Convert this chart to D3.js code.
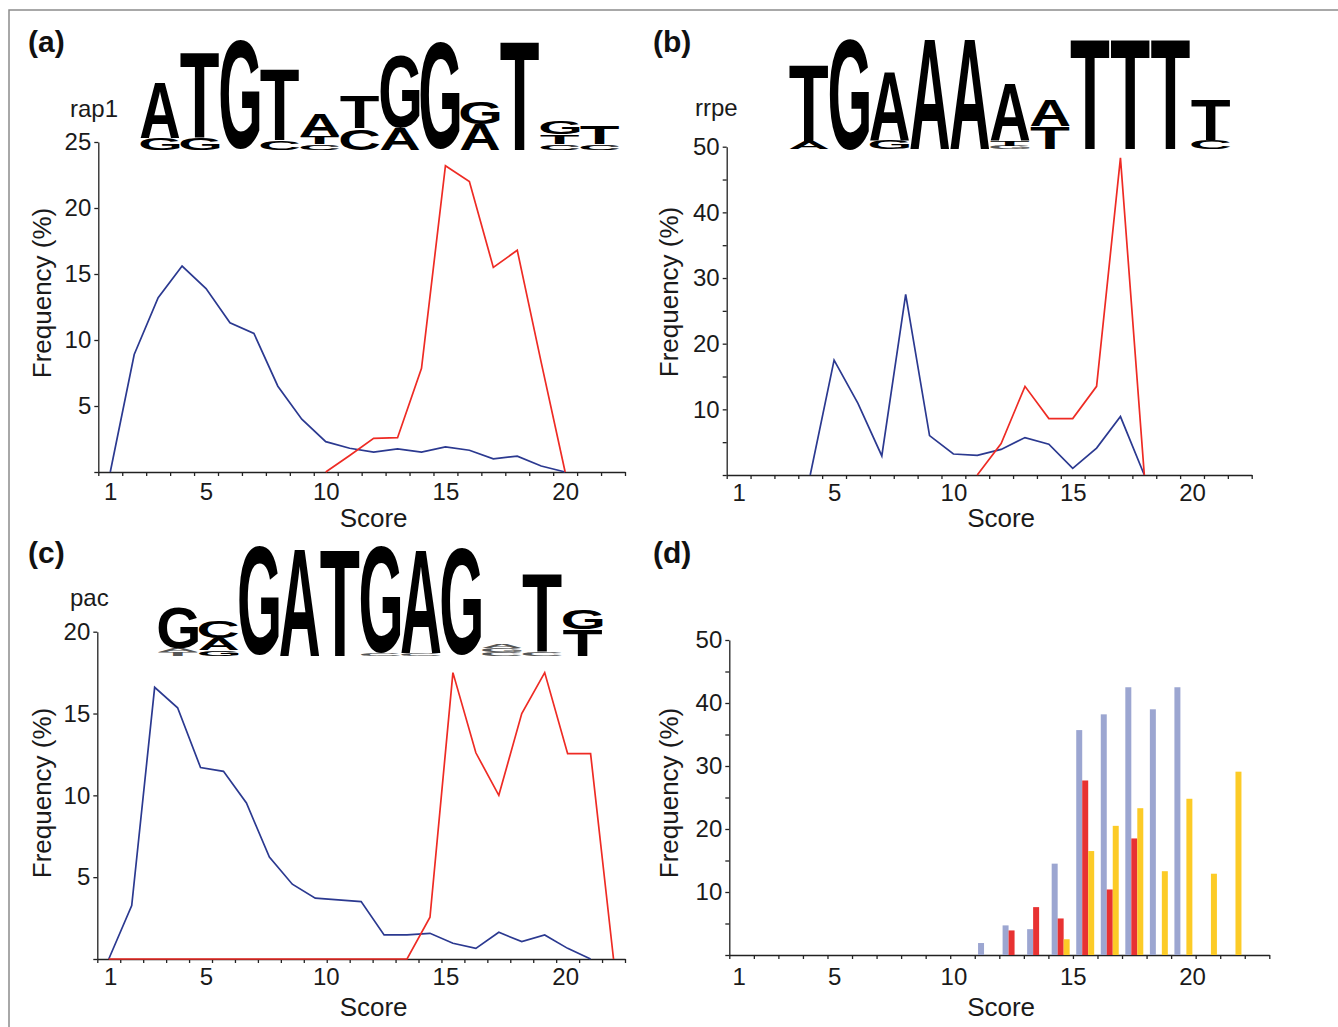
<!DOCTYPE html>
<html>
<head>
<meta charset="utf-8">
<script src="https://cdn.jsdelivr.net/npm/d3@7"></script>
<style>
  body { margin: 0; background: #fff; }
  svg { display: block; font-family: "Liberation Sans", Arial, sans-serif; }
</style>
</head>
<body>
<div id="figure"></div>
<script>

// x tick labels (score)
var xTickLabels = [1, 5, 10, 15, 20];

// (a) rap1, scores 1..22 (null = not drawn)
var rap1Blue = [0, 8.9, 13.2, 15.6, 13.9, 11.3, 10.5, 6.5, 4.0, 2.3, 1.8, 1.5, 1.75, 1.5, 1.9, 1.65, 1.0, 1.2, 0.45, 0, null, null];
var rap1Red = [null, null, null, null, null, null, null, null, null, 0, 1.25, 2.55, 2.6, 7.85, 23.2, 22.0, 15.5, 16.8, 8.3, 0, null, null];
var rap1YLabels = [5, 10, 15, 20, 25];

// (b) rrpe, scores 1..22
var rrpeBlue = [null, null, null, 0, 17.5, 10.9, 2.9, 27.5, 6.0, 3.2, 3.0, 3.9, 5.7, 4.7, 1.0, 4.1, 8.9, 0, null, null, null, null];
var rrpeRed = [null, null, null, null, null, null, null, null, null, null, 0, 4.8, 13.5, 8.6, 8.6, 13.5, 48.3, 0, null, null, null, null];
var rrpeYLabels = [10, 20, 30, 40, 50];

// (c) pac, scores 1..23
var pacBlue = [0, 3.26, 16.6, 15.35, 11.7, 11.47, 9.53, 6.23, 4.57, 3.72, 3.61, 3.51, 1.47, 1.47, 1.57, 0.96, 0.65, 1.63, 1.06, 1.47, 0.65, 0, null];
var pacRed = [0, 0, 0, 0, 0, 0, 0, 0, 0, 0, 0, 0, 0, 0, 2.55, 17.5, 12.6, 10.0, 15.0, 17.5, 12.55, 12.55, 0];
var pacYLabels = [5, 10, 15, 20];

// (d) bars, scores 1..22
var barGrey = [0, 0, 0, 0, 0, 0, 0, 0, 0, 0, 1.9, 4.7, 4.1, 14.5, 35.7, 38.2, 42.5, 39.0, 42.5, 0, 0, 0];
var barRed = [0, 0, 0, 0, 0, 0, 0, 0, 0, 0, 0, 3.9, 7.6, 5.8, 27.7, 10.4, 18.5, 0, 0, 0, 0, 0];
var barYellow = [0, 0, 0, 0, 0, 0, 0, 0, 0, 0, 0, 0, 0, 2.5, 16.5, 20.5, 23.3, 13.3, 24.8, 12.9, 29.1, 0];
var barYLabels = [10, 20, 30, 40, 50];

// sequence logos: each column is a stack bottom -> top, [letter, bits]
var rap1Logo = [
  [["G", 0.22], ["A", 1.02]],
  [["G", 0.22], ["T", 1.56]],
  [["G", 2.0]],
  [["C", 0.18], ["T", 1.31]],
  [["C", 0.11], ["T", 0.15], ["A", 0.40]],
  [["C", 0.40], ["T", 0.60]],
  [["A", 0.40], ["G", 1.33]],
  [["G", 1.95]],
  [["A", 0.47], ["G", 0.42]],
  [["T", 2.0]],
  [["C", 0.11], ["T", 0.18], ["G", 0.24]],
  [["C", 0.11], ["T", 0.33]]
];
var rrpeLogo = [
  [["A", 0.16], ["T", 1.40]],
  [["G", 2.03]],
  [["G", 0.18], ["A", 1.27]],
  [["A", 2.03]],
  [["A", 2.03]],
  [["G", 0.07], ["T", 0.11], ["A", 1.04]],
  [["T", 0.42], ["A", 0.49]],
  [["T", 2.03]],
  [["T", 2.03]],
  [["T", 2.03]],
  [["C", 0.18], ["T", 0.73]]
];
var pacLogo = [
  [["T", 0.07], ["A", 0.07], ["G", 0.76]],
  [["G", 0.11], ["A", 0.22], ["C", 0.31]],
  [["G", 2.0]],
  [["A", 1.96]],
  [["T", 1.95]],
  [["C", 0.05], ["G", 1.95]],
  [["C", 0.05], ["A", 1.91]],
  [["G", 1.96]],
  [["C", 0.07], ["G", 0.07], ["A", 0.09]],
  [["C", 0.09], ["T", 1.42]],
  [["T", 0.49], ["G", 0.36]]
];

var width = 1338, height = 1027;
var blue = "#2b3990", red = "#ee2b24";

var svg = d3.select("#figure")
  .append("svg")
    .attr("width", width)
    .attr("height", height);

// grey frame on top and left
svg.append("path")
  .attr("d", "M9," + height + "V10H" + width)
  .attr("fill", "none")
  .attr("stroke", "#8c8c8c")
  .attr("stroke-width", 1.5);

function styleAxis(g) {
  g.attr("font-family", "'Liberation Sans', Arial, sans-serif")
   .attr("font-size", 24);
  g.selectAll("path, line").attr("stroke", "#222").attr("stroke-width", 1.3);
  g.selectAll("text").attr("fill", "#1a1a1a");
}

// one chart panel with score axis and frequency axis
function drawPanel(p) {
  var x = d3.scaleLinear().domain([0.5, p.n + 0.5]).range(p.xRange);
  var xLab = d3.scaleLinear().domain([0.5, 22.5]).range(p.labelRange);
  var y = d3.scaleLinear().domain([0, p.yMax]).range([p.y0, p.yTop]);

  // ticks between score categories
  svg.append("g")
    .attr("transform", "translate(0," + p.y0 + ")")
    .call(d3.axisBottom(x).tickValues(d3.range(0.5, p.n + 1, 1)).tickFormat("").tickSize(4).tickSizeOuter(0))
    .call(styleAxis);

  svg.append("g")
    .attr("transform", "translate(0," + p.y0 + ")")
    .call(d3.axisBottom(xLab).tickValues(xTickLabels).tickSize(0).tickPadding(p.labelPad))
    .call(g => g.select(".domain").remove())
    .call(styleAxis);

  svg.append("g")
    .attr("transform", "translate(" + p.xRange[0] + ",0)")
    .call(d3.axisLeft(y).tickValues(d3.range(0, p.yMax + 1, 5)).tickSize(4).tickSizeOuter(0).tickPadding(3)
      .tickFormat(d => p.yLabels.indexOf(d) >= 0 ? d : ""))
    .call(styleAxis);

  svg.append("text")
    .attr("x", xLab(12))
    .attr("y", p.scoreY)
    .attr("text-anchor", "middle")
    .attr("font-size", 26)
    .attr("fill", "#1a1a1a")
    .text("Score");

  svg.append("text")
    .attr("transform", "translate(" + p.titleX + "," + p.titleY + ") rotate(-90)")
    .attr("text-anchor", "middle")
    .attr("font-size", 26)
    .attr("fill", "#1a1a1a")
    .text("Frequency (%)");

  svg.append("text")
    .attr("x", p.tagX)
    .attr("y", p.tagY)
    .attr("font-size", 30)
    .attr("font-weight", "bold")
    .attr("fill", "#111")
    .text(p.tag);

  if (p.name) {
    svg.append("text")
      .attr("x", p.tagX + 42)
      .attr("y", p.nameY)
      .attr("font-size", 24)
      .attr("fill", "#1a1a1a")
      .text(p.name);
  }

  if (p.lines) {
    var line = d3.line()
      .defined(d => d.v != null)
      .x(d => x(d.s))
      .y(d => y(d.v));
    p.lines.forEach(function(sr) {
      svg.append("path")
        .datum(sr.values.map((v, i) => ({s: i + 1, v: v})))
        .attr("d", line)
        .attr("fill", "none")
        .attr("stroke", sr.color)
        .attr("stroke-width", 1.7)
        .attr("stroke-linejoin", "miter");
    });
  }

  if (p.bars) {
    var xb = d3.scaleBand().domain(d3.range(1, p.n + 1)).range(p.xRange);
    var xs = d3.scaleBand().domain(p.bars.map(b => b.key)).range([0, xb.bandwidth()]).paddingOuter(0.55);
    p.bars.forEach(function(b) {
      svg.append("g")
        .selectAll("rect")
        .data(b.values.map((v, i) => ({s: i + 1, v: v})).filter(d => d.v > 0))
        .enter()
        .append("rect")
          .attr("x", d => xb(d.s) + xs(b.key))
          .attr("width", xs.bandwidth())
          .attr("y", d => y(d.v))
          .attr("height", d => y(0) - y(d.v))
          .attr("fill", b.color);
    });
  }
}

// sequence logo letters stretched into their boxes
var ctx = document.createElement("canvas").getContext("2d");
ctx.font = "bold 100px 'Liberation Sans'";
var glyphs = {};
function glyphBox(ch) {
  if (!glyphs[ch]) {
    var m = ctx.measureText(ch);
    glyphs[ch] = {x0: -m.actualBoundingBoxLeft, x1: m.actualBoundingBoxRight,
                  y0: -m.actualBoundingBoxAscent, y1: m.actualBoundingBoxDescent};
  }
  return glyphs[ch];
}

function drawLogo(logo, xRange, baseline) {
  var lx = d3.scaleBand().domain(d3.range(logo.length)).range(xRange);
  var ly = d3.scaleLinear().domain([0, 2]).range([0, 110]);
  var letters = [];
  logo.forEach(function(col, i) {
    var acc = 0;
    col.forEach(function(l) {
      letters.push({col: i, ch: l[0], bottom: acc, top: acc + l[1]});
      acc += l[1];
    });
  });
  svg.append("g")
    .selectAll("text")
    .data(letters)
    .enter()
    .append("text")
      .attr("font-size", 100)
      .attr("font-weight", "bold")
      .attr("font-family", "'Liberation Sans'")
      .attr("fill", d => (ly(d.top) - ly(d.bottom)) < 5 ? "#555" : "#000")
      .attr("transform", function(d) {
        var b = glyphBox(d.ch);
        var w = lx.bandwidth() - 1;
        // leave a hair of space between stacked letters
        var h = Math.max(ly(d.top) - ly(d.bottom) - 0.6, 1);
        return "translate(" + (lx(d.col) + 0.5) + "," + (baseline - ly(d.top)) + ")" +
          " scale(" + (w / (b.x1 - b.x0)) + "," + (h / (b.y1 - b.y0)) + ")" +
          " translate(" + (-b.x0) + "," + (-b.y0) + ")";
      })
      .text(d => d.ch);
}

drawLogo(rap1Logo, [140, 620], 150.5);
drawLogo(rrpeLogo, [789, 1231], 150);
drawLogo(pacLogo, [158, 603], 656.5);

drawPanel({tag: "(a)", tagX: 28, tagY: 52, name: "rap1", nameY: 117,
  n: 22, xRange: [98.3, 625], labelRange: [98.3, 625], y0: 472, yTop: 142, yMax: 25, yLabels: rap1YLabels,
  labelPad: 11, scoreY: 527, titleX: 51, titleY: 293,
  lines: [{values: rap1Blue, color: blue}, {values: rap1Red, color: red}]});

drawPanel({tag: "(b)", tagX: 653, tagY: 52, name: "rrpe", nameY: 116,
  n: 22, xRange: [726.7, 1251.7], labelRange: [726.7, 1251.7], y0: 475, yTop: 146.7, yMax: 50, yLabels: rrpeYLabels,
  labelPad: 8.5, scoreY: 527, titleX: 678, titleY: 292,
  lines: [{values: rrpeBlue, color: blue}, {values: rrpeRed, color: red}]});

drawPanel({tag: "(c)", tagX: 28, tagY: 563, name: "pac", nameY: 606,
  n: 23, xRange: [97.3, 625], labelRange: [98.3, 625], y0: 959, yTop: 631.7, yMax: 20, yLabels: pacYLabels,
  labelPad: 9, scoreY: 1016, titleX: 51, titleY: 793,
  lines: [{values: pacBlue, color: blue}, {values: pacRed, color: red}]});

drawPanel({tag: "(d)", tagX: 653, tagY: 563,
  n: 22, xRange: [729.3, 1269.3], labelRange: [726.7, 1251.7], y0: 955, yTop: 640, yMax: 50, yLabels: barYLabels,
  labelPad: 12.5, scoreY: 1016, titleX: 678, titleY: 793,
  bars: [{key: "grey", values: barGrey, color: "#9ca6d1"},
         {key: "red", values: barRed, color: "#e83232"},
         {key: "yellow", values: barYellow, color: "#fccb27"}]});

</script>
</body>
</html>
